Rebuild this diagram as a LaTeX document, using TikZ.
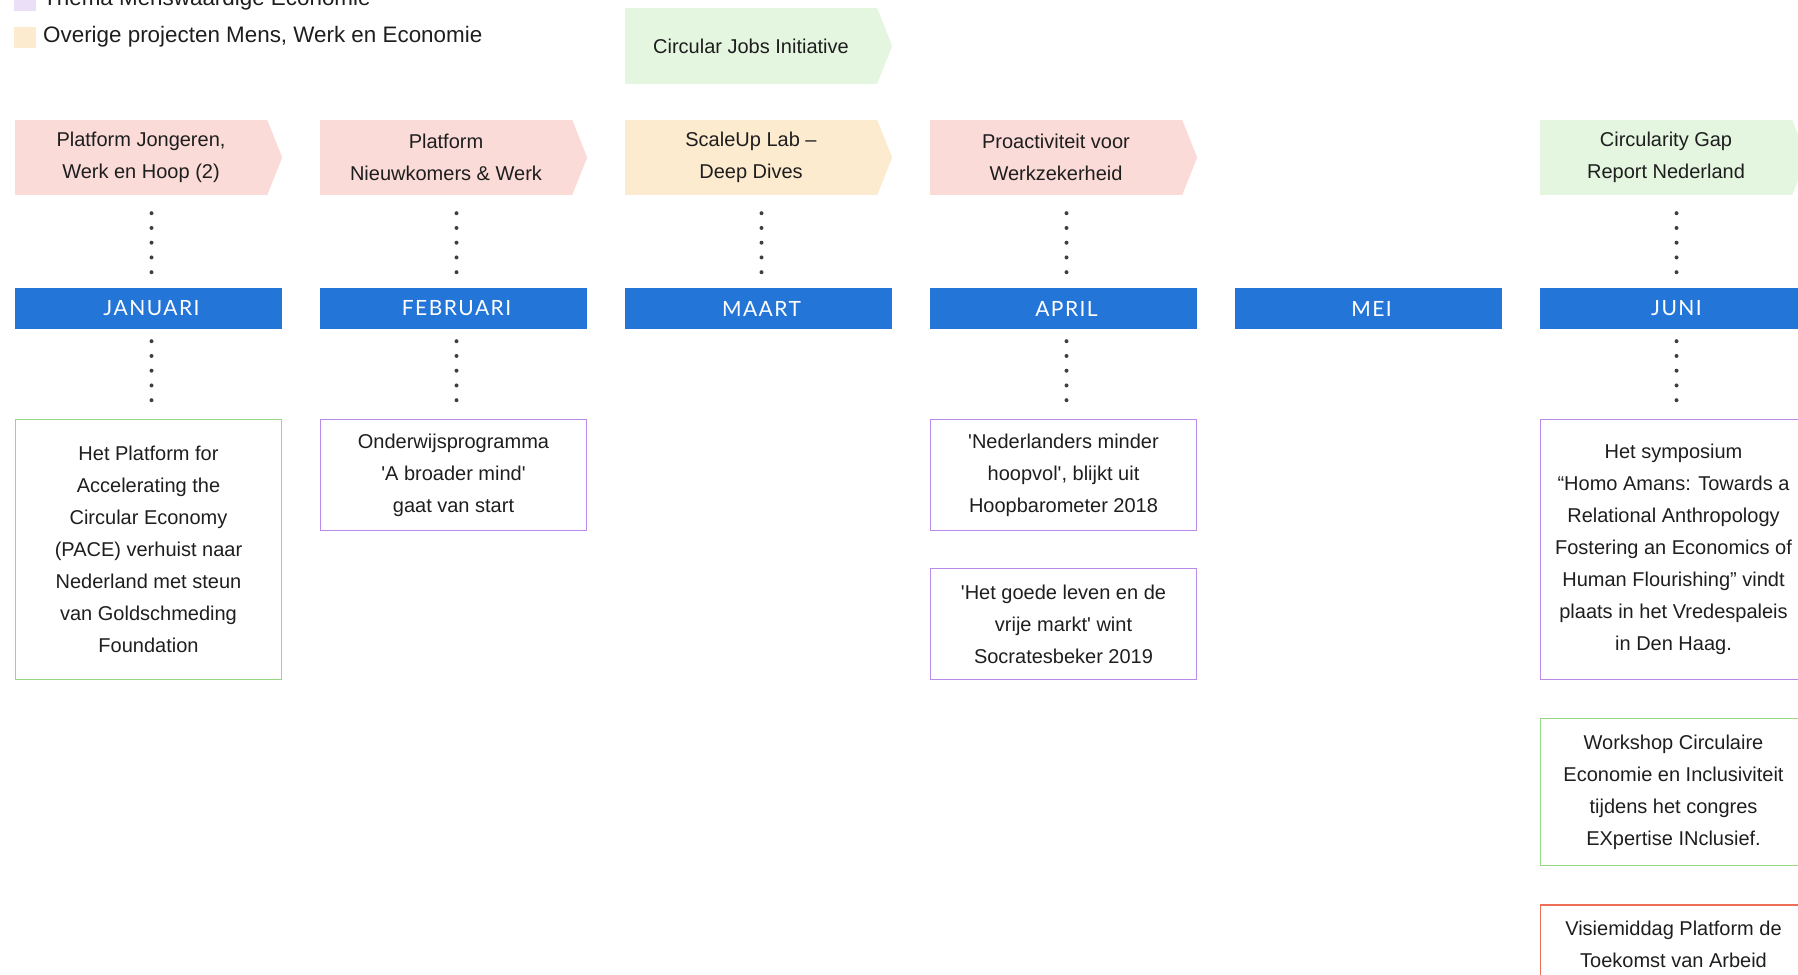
\documentclass[tikz,border=0pt]{standalone}
\usepackage{fontspec}
\setmainfont{Liberation Sans}
\newfontfamily\monthfont[LetterSpace=7]{Lato}
\usepackage{xcolor}
\usetikzlibrary{positioning}

\definecolor{pinkfill}{HTML}{FADBD8}
\definecolor{greenfill}{HTML}{E4F5E0}
\definecolor{orangefill}{HTML}{FDEBCF}
\definecolor{purplefill}{HTML}{EBDFF8}
\definecolor{monthblue}{HTML}{2375D8}
\definecolor{greenline}{HTML}{96D884}
\definecolor{purpleline}{HTML}{B98AE8}
\definecolor{redline}{HTML}{EE6E58}
\definecolor{dotgray}{HTML}{3F3F3F}
\definecolor{inkblack}{HTML}{1E1E1E}
\newcommand\sq{\textquotesingle}

\begin{document}
\begin{tikzpicture}[x=1pt,y=-1pt,
  banner/.style={fill=#1,minimum width=252pt,minimum height=75pt,inner sep=0pt,
    align=center,text=inkblack,font=\fontsize{20}{32}\selectfont},
  month/.style={fill=monthblue,minimum width=267pt,minimum height=41pt,inner sep=0pt,
    text=white,font=\monthfont\fontsize{21}{24}\selectfont},
  event/.style={draw=#1,line width=1.6pt,minimum width=266pt,inner sep=0pt,
    align=center,text=inkblack,font=\fontsize{20}{32}\selectfont},
  dotline/.style={dotgray,line width=4pt,line cap=round,dash pattern=on 0pt off 14.75pt,
    transform canvas={xshift=3pt}},
  legendbox/.style={fill=#1,minimum width=22pt,minimum height=21pt,inner sep=0pt},
  legendtext/.style={anchor=west,inner sep=0pt,text=inkblack,font=\fontsize{22.4}{26}\selectfont}]
\useasboundingbox (0,0) rectangle (1798,974);
\clip (0,0) rectangle (1798,974);

% legend
\node[legendbox=purplefill] (lgthema) at (25,1) {};
\node[legendtext] (lgthematext) at (43,-0.5) {Thema Menswaardige Economie};
\node[legendbox=orangefill] (lgoverig) at (25,38) {};
\node[legendtext] (lgoverigtext) at (43,36.7) {Overige projecten Mens, Werk en Economie};

% projects
\node[banner=greenfill] (cji) at (751,46) {Circular Jobs Initiative};
\node[banner=pinkfill] (jan) at (141,157.5) {Platform Jongeren,\\Werk en Hoop (2)};
\node[banner=pinkfill] (feb) at (446,157.5) {Platform\\Nieuwkomers \& Werk};
\node[banner=orangefill] (mrt) at (751,157.5) {ScaleUp Lab --\\Deep Dives};
\node[banner=pinkfill] (apr) at (1056,157.5) {Proactiviteit voor\\Werkzekerheid};
\node[banner=greenfill] (jun) at (1666,157.5) {Circularity Gap\\Report Nederland};
\foreach \b/\c in {cji/greenfill,jan/pinkfill,feb/pinkfill,mrt/orangefill,apr/pinkfill,jun/greenfill}
  \fill[\c] (\b.north east) -- ([xshift=15pt]\b.east) -- (\b.south east) -- cycle;

% months
\foreach \n/\t [count=\i from 0] in {janm/JANUARI,febm/FEBRUARI,mrtm/MAART,aprm/APRIL,meim/MEI,junm/JUNI}
  \node[month] (\n) at (148.5+305*\i,308.5) {\hspace*{6pt}\t};

% events
\node[event=greenline,minimum height=260pt] (pace) at (148.5,549.5) {Het Platform for\\Accelerating the\\Circular Economy\\(PACE) verhuist naar\\Nederland met steun\\van Goldschmeding\\Foundation};
\node[event=purpleline,minimum height=111pt] (mind) at (453.5,475) {Onderwijsprogramma\\\sq A broader mind\sq\\gaat van start};
\node[event=purpleline,minimum height=111pt] (hoop) at (1063.5,475) {\sq Nederlanders minder\\hoopvol\sq, blijkt uit\\Hoopbarometer 2018};
\node[event=purpleline,minimum height=111pt] (socr) at (1063.5,624) {\sq Het goede leven en de\\vrije markt\sq\ wint\\Socratesbeker 2019};
\node[event=purpleline,minimum height=260pt] (amans) at (1673.5,549.5) {Het symposium\\``Homo Amans: Towards a\\Relational Anthropology\\Fostering an Economics of\\Human Flourishing'' vindt\\plaats in het Vredespaleis\\in Den Haag.};
\node[event=greenline,minimum height=147pt] (expin) at (1673.5,792) {Workshop Circulaire\\Economie en Inclusiviteit\\tijdens het congres\\EXpertise INclusief.};
\node[event=redline,minimum height=80pt,anchor=north] (toek) at (1673.5,904) {Visiemiddag Platform de\\Toekomst van Arbeid};

% dotted links
\foreach \m/\b in {janm/jan,febm/feb,mrtm/mrt,aprm/apr,junm/jun}
  \draw[dotline,shorten <=18pt,shorten >=14.5pt] (\m.north |- \b.south) -- (\m.north);
\foreach \m/\e in {janm/pace,febm/mind,aprm/hoop,junm/amans}
  \draw[dotline,shorten <=12pt,shorten >=18.5pt] (\m.south) -- (\e.north);
\end{tikzpicture}
\end{document}
